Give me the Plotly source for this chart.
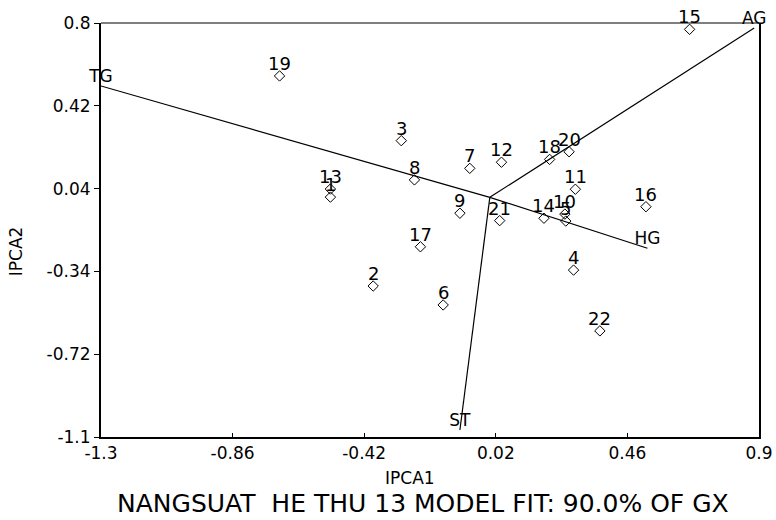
import plotly.graph_objects as go

# Genotype scores (IPCA1, IPCA2)
gen_labels = [str(i) for i in range(1, 23)]
gen_ipca1 = [-0.533, -0.390, -0.296, 0.280, 0.254, -0.156, -0.067, -0.252, -0.100, 0.251,
             0.286, 0.039, -0.533, 0.181, 0.668, 0.522, -0.232, 0.200, -0.703, 0.265,
             0.033, 0.368]
gen_ipca2 = [0.001, -0.407, 0.260, -0.334, -0.109, -0.494, 0.133, 0.080, -0.073, -0.077,
             0.037, 0.161, 0.038, -0.096, 0.771, -0.043, -0.227, 0.174, 0.557, 0.209,
             -0.107, -0.613]

# Environment vectors (from origin)
env_labels = ["AG", "HG", "TG", "ST"]
env_ipca1 = [0.884, 0.527, -1.300, -0.100]
env_ipca2 = [0.777, -0.234, 0.511, -1.068]

x_ticks = [-1.3, -0.86, -0.42, 0.02, 0.46, 0.9]
y_ticks = [-1.1, -0.72, -0.34, 0.04, 0.42, 0.8]
x_ticktext = ["-1.3", "-0.86", "-0.42", "0.02", "0.46", "0.9"]
y_ticktext = ["-1.1", "-0.72", "-0.34", "0.04", "0.42", "0.8"]

FONT = "DejaVu Sans, Liberation Sans, Arial"

fig = go.Figure()

# environment vectors
vx, vy = [], []
for ex, ey in zip(env_ipca1, env_ipca2):
    vx += [0, ex, None]
    vy += [0, ey, None]
fig.add_trace(go.Scatter(x=vx, y=vy, mode="lines",
                         line=dict(color="black", width=1.2),
                         hoverinfo="skip", showlegend=False))
fig.add_trace(go.Scatter(x=env_ipca1, y=env_ipca2, mode="text", text=env_labels,
                         textposition="top center",
                         textfont=dict(family=FONT, size=17, color="black"),
                         showlegend=False, cliponaxis=False))

# genotypes
fig.add_trace(go.Scatter(x=gen_ipca1, y=gen_ipca2, mode="markers", text=gen_labels,
                         marker=dict(symbol="diamond-open", size=8, color="black",
                                     line=dict(width=1)),
                         showlegend=False, cliponaxis=False))

gen_annotations = [
    dict(x=gx, y=gy, text=lab, xref="x", yref="y", showarrow=False,
         xanchor="center", yanchor="bottom", yshift=1, borderpad=0,
         font=dict(family=FONT, size=18, color="black"))
    for gx, gy, lab in zip(gen_ipca1, gen_ipca2, gen_labels)
]

fig.update_layout(
    width=776, height=520, autosize=False,
    margin=dict(l=101, r=17, t=23, b=83, autoexpand=False),
    paper_bgcolor="white", plot_bgcolor="white",
    font=dict(family=FONT, size=17, color="black"),
    showlegend=False,
    xaxis=dict(range=[-1.3, 0.9], tickvals=x_ticks, ticktext=x_ticktext,
               showgrid=False, zeroline=False, showline=True, linecolor="black",
               linewidth=2, ticks="inside", ticklen=4, tickcolor="black", automargin=False,
               tickfont=dict(family=FONT, size=17, color="black")),
    yaxis=dict(range=[-1.1, 0.8], tickvals=y_ticks, ticktext=y_ticktext,
               showgrid=False, zeroline=False, showline=True, linecolor="black",
               linewidth=2, mirror=True, ticks="outside", ticklen=5, tickcolor="black",
               automargin=False,
               tickfont=dict(family=FONT, size=17, color="black")),
    shapes=[dict(type="line", xref="paper", yref="paper", x0=0, x1=1, y0=1, y1=1,
                 line=dict(color="black", width=1.2))],
    annotations=gen_annotations + [
        dict(text="IPCA1", xref="paper", yref="paper", x=0.47, y=-0.1,
             xanchor="center", yanchor="middle", showarrow=False,
             font=dict(family=FONT, size=17, color="black")),
        dict(text="IPCA2", xref="paper", yref="paper", x=-0.13, y=0.45,
             xanchor="center", yanchor="middle", showarrow=False, textangle=-90,
             font=dict(family=FONT, size=17, color="black")),
        dict(text="NANGSUAT\u00a0 HE THU 13 MODEL FIT: 90.0% OF GX", xref="paper",
             yref="paper", x=0.49, y=-0.16, xanchor="center", yanchor="middle",
             borderpad=0, showarrow=False, font=dict(family=FONT, size=25, color="black")),
    ],
)

fig.write_html("out.html",
               config={"displayModeBar": False, "responsive": False},
               post_script="document.body.style.margin='0';document.body.style.overflow='hidden';")
